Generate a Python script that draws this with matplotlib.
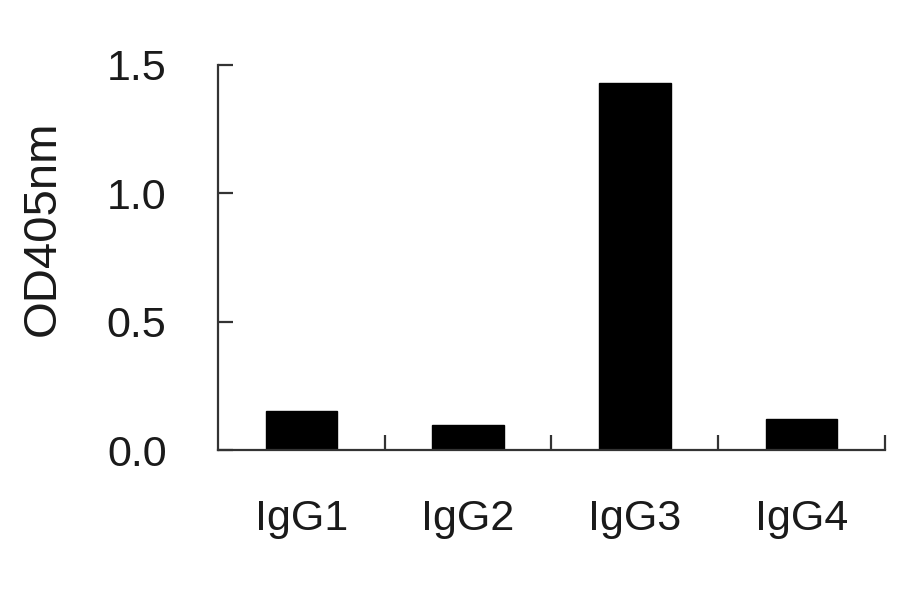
import matplotlib
matplotlib.use("Agg")
import matplotlib.pyplot as plt
import numpy as np

categories = ["IgG1", "IgG2", "IgG3", "IgG4"]
values = [0.152, 0.097, 1.428, 0.120]
yticks = [0.0, 0.5, 1.0, 1.5]
ytick_labels = ["0.0", "0.5", "1.0", "1.5"]

plt.rcParams['font.family'] = ['Liberation Sans', 'DejaVu Sans']

fig = plt.figure(figsize=(9, 5.94), dpi=100)
ax = fig.add_axes([0.2422, 0.2424, 0.7411, 0.6482])

x = np.arange(len(categories))
ax.bar(x, values, width=0.43, color="black", edgecolor="black")

ax.set_xlim(-0.5, len(categories) - 0.5)
ax.set_ylim(0, 1.5)

for s in ["top", "right"]:
    ax.spines[s].set_visible(False)
for s in ["left", "bottom"]:
    ax.spines[s].set_color("#333333")
    ax.spines[s].set_linewidth(1.6)

ax.set_yticks(yticks)
ax.set_yticklabels(ytick_labels)
ax.tick_params(axis="y", direction="in", length=11, width=1.6, color="#333333",
               labelsize=31, pad=37, labelcolor="#1a1a1a")

ax.set_xticks(list(x[:-1] + 0.5) + [len(categories) - 0.5])
ax.set_xticklabels([])
ax.tick_params(axis="x", which="major", direction="in", length=11, width=1.6, color="#333333")
ax.set_xticks(x, minor=True)
ax.set_xticklabels(categories, minor=True)
ax.tick_params(axis="x", which="minor", length=0, labelsize=31, pad=35, labelcolor="#1a1a1a")

ax.set_ylabel("OD405nm", fontsize=34, color="#1a1a1a")
ax.yaxis.set_label_coords(-0.23, 0.575)

fig.savefig("out.png", dpi=100, facecolor="white")
